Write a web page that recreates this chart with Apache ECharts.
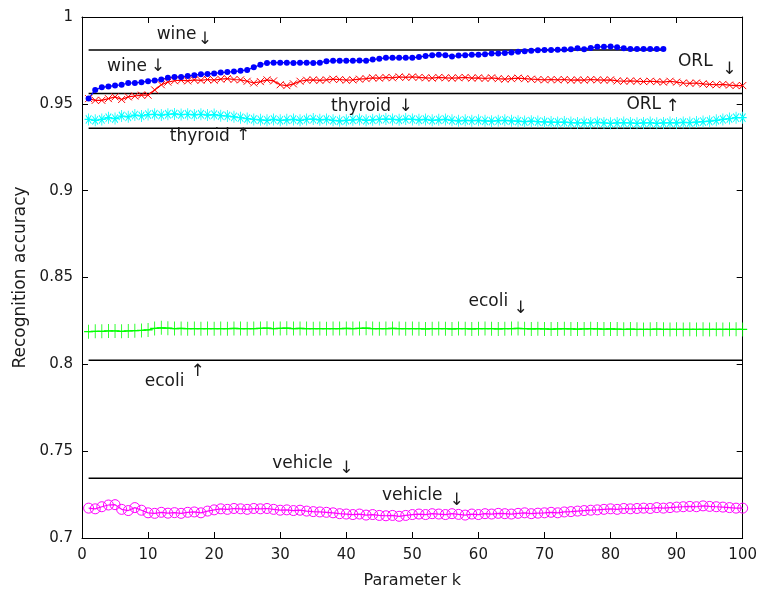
<!DOCTYPE html>
<html>
<head>
<meta charset="utf-8">
<script src="https://cdn.jsdelivr.net/npm/echarts@6/dist/echarts.min.js"></script>
<style>
html, body { margin: 0; padding: 0; background: #fff; }
#main { width: 760px; height: 594px; }
</style>
</head>
<body>
<div id="main"></div>
<script>
// recognition accuracy vs parameter k, one value per k starting at k=1
var wine = [
  0.953, 0.958, 0.9595, 0.960, 0.9605, 0.961, 0.962, 0.962, 0.9625, 0.963,
  0.9635, 0.964, 0.965, 0.9655, 0.9655, 0.966, 0.9665, 0.967, 0.9672, 0.9675,
  0.968, 0.9683, 0.9686, 0.969, 0.9695, 0.971, 0.9725, 0.9735, 0.9737, 0.9737,
  0.9737, 0.9735, 0.9737, 0.9737, 0.9735, 0.9737, 0.9745, 0.9748, 0.9748, 0.9748,
  0.9748, 0.975, 0.9748, 0.9755, 0.976, 0.9765, 0.9765, 0.9765, 0.9765, 0.9765,
  0.977, 0.9775, 0.978, 0.9783, 0.978, 0.9772, 0.9778, 0.978, 0.9783, 0.9783,
  0.9786, 0.979, 0.979, 0.9793, 0.9796, 0.980, 0.9803, 0.9806, 0.9808, 0.981,
  0.981, 0.9811, 0.9813, 0.9815, 0.982, 0.9815, 0.9822, 0.9828, 0.9828, 0.983,
  0.9826, 0.982, 0.9816, 0.9816, 0.9816, 0.9816, 0.9816, 0.9816
];
var orl = [
  0.953, 0.952, 0.952, 0.953, 0.954, 0.9525, 0.954, 0.9545, 0.955, 0.955,
  0.958, 0.961, 0.9625, 0.9633, 0.9636, 0.9632, 0.9638, 0.9635, 0.964, 0.9636,
  0.9642, 0.9645, 0.964, 0.9638, 0.963, 0.962, 0.9628, 0.9638, 0.9632, 0.961,
  0.9605, 0.9615, 0.963, 0.9636, 0.9638, 0.9635, 0.9638, 0.9642, 0.964, 0.9636,
  0.9638, 0.9642, 0.9645, 0.965, 0.9648, 0.9652, 0.965, 0.9655, 0.9652, 0.9655,
  0.9652, 0.965, 0.9648, 0.9652, 0.965, 0.9648, 0.965, 0.9652, 0.9648, 0.965,
  0.9646, 0.965, 0.9645, 0.9642, 0.9645, 0.9648, 0.9645, 0.9642, 0.964, 0.9638,
  0.964, 0.9638, 0.964, 0.9636, 0.9638, 0.9636, 0.964, 0.9638, 0.9636, 0.9638,
  0.9632, 0.963, 0.9632, 0.963, 0.9628, 0.963, 0.9628, 0.9625, 0.963, 0.9625,
  0.962, 0.9618, 0.962, 0.9615, 0.9612, 0.961, 0.9612, 0.9608, 0.9605, 0.9605
];
var thyroid = [
  0.941, 0.9405, 0.941, 0.942, 0.9415, 0.943, 0.9425, 0.9435, 0.943, 0.9438,
  0.944, 0.9435, 0.944, 0.9442, 0.9438, 0.944, 0.9436, 0.944, 0.9435, 0.9438,
  0.9432, 0.943, 0.9425, 0.942, 0.9415, 0.941, 0.9408, 0.9405, 0.941, 0.9405,
  0.9408, 0.941, 0.9405, 0.941, 0.9412, 0.9408, 0.941, 0.9405, 0.9402, 0.9405,
  0.9408, 0.941, 0.9405, 0.9408, 0.941, 0.9412, 0.941, 0.9408, 0.9412, 0.941,
  0.9408, 0.941, 0.9405, 0.9408, 0.941, 0.9405, 0.9402, 0.9405, 0.9403, 0.9405,
  0.9402, 0.940, 0.9403, 0.9405, 0.9402, 0.940, 0.9398, 0.940, 0.9398, 0.9396,
  0.9395, 0.9393, 0.9395, 0.9392, 0.939, 0.9392, 0.939, 0.9393, 0.939, 0.9388,
  0.939, 0.9392, 0.939, 0.9388, 0.939, 0.9392, 0.9388, 0.939, 0.9392, 0.939,
  0.9393, 0.9392, 0.9395, 0.9398, 0.940, 0.9405, 0.941, 0.9415, 0.942, 0.942
];
var ecoli = [
  0.8188, 0.819, 0.819, 0.8192, 0.8192, 0.819, 0.8192, 0.8194, 0.8195, 0.8198,
  0.8207, 0.821, 0.8208, 0.8206, 0.8207, 0.8205, 0.8206, 0.8205, 0.8206, 0.8205,
  0.8206, 0.8205, 0.8207, 0.8206, 0.8205, 0.8206, 0.8207, 0.8208, 0.8206, 0.8207,
  0.8208, 0.8206, 0.8207, 0.8206, 0.8205, 0.8206, 0.8205, 0.8206, 0.8206, 0.8207,
  0.8206, 0.8207, 0.8208, 0.8206, 0.8205, 0.8206, 0.8207, 0.8206, 0.8205, 0.8206,
  0.8205, 0.8204, 0.8205, 0.8206, 0.8205, 0.8204, 0.8206, 0.8205, 0.8204, 0.8205,
  0.8206, 0.8205, 0.8204, 0.8205, 0.8206, 0.8207, 0.8205, 0.8204, 0.8205, 0.8204,
  0.8203, 0.8204, 0.8205, 0.8204, 0.8203, 0.8204, 0.8205, 0.8204, 0.8203, 0.8204,
  0.8203, 0.8202, 0.8203, 0.8202, 0.8201, 0.8202, 0.8203, 0.8202, 0.8201, 0.8202,
  0.8201, 0.8202, 0.8201, 0.8202, 0.8201, 0.8202, 0.8201, 0.8202, 0.8202, 0.8201
];
var vehicle = [
  0.7172, 0.7168, 0.718, 0.719, 0.7192, 0.7165, 0.7158, 0.7175, 0.716, 0.7145,
  0.7142, 0.7148, 0.7143, 0.7146, 0.7142, 0.7148, 0.715, 0.7145, 0.7155, 0.7162,
  0.7168, 0.7165, 0.717, 0.7168, 0.7165, 0.717, 0.7168, 0.717, 0.7165, 0.716,
  0.7162, 0.7158, 0.716, 0.7155, 0.7152, 0.715, 0.7148, 0.7145, 0.714, 0.7138,
  0.7135, 0.7138, 0.7132, 0.7135, 0.713, 0.7128, 0.713, 0.7125, 0.713, 0.7135,
  0.7138, 0.7135, 0.714, 0.7138, 0.7135, 0.714, 0.7136, 0.7132, 0.7138, 0.7135,
  0.714, 0.7138, 0.7142, 0.714, 0.7138, 0.7142, 0.7145, 0.714, 0.7143, 0.7145,
  0.7148, 0.7145, 0.715, 0.7152, 0.7155, 0.7158, 0.716, 0.7162, 0.7165, 0.7168,
  0.7165, 0.717, 0.7168, 0.717, 0.7172, 0.717, 0.7175, 0.7172, 0.7175, 0.7178,
  0.718, 0.7182, 0.718, 0.7185, 0.7182, 0.718, 0.7178, 0.7175, 0.7172, 0.7172
];

// reference accuracies (black lines): [value, last k]
var refLines = [
  [0.981, 88],
  [0.956, 100],
  [0.936, 100],
  [0.8023, 100],
  [0.7344, 100]
];

// text notes: [text, k, accuracy]
var notes = [
  ['wine', 11.3, 0.9897], ['wine', 3.8, 0.9714],
  ['thyroid', 37.7, 0.9484], ['thyroid', 13.3, 0.9312],
  ['ORL', 90.2, 0.9742], ['ORL', 82.4, 0.9496],
  ['ecoli', 58.5, 0.836], ['ecoli', 9.5, 0.790],
  ['vehicle', 28.8, 0.743], ['vehicle', 45.4, 0.7247]
];
var arrows = [
  ['↓', 18.6, 0.9869], ['↓', 11.5, 0.9714],
  ['↓', 49.0, 0.9484], ['↑', 24.4, 0.9318],
  ['↓', 98.0, 0.9697], ['↑', 89.4, 0.9484],
  ['↓', 66.4, 0.832], ['↑', 17.5, 0.7958],
  ['↓', 40.0, 0.7402], ['↓', 56.7, 0.7218]
];

var FONT = 'DejaVu Sans';
var TXT = '#1a1a1a';

function pairs(arr) {
  var out = [];
  for (var i = 0; i < arr.length; i++) out.push([i + 1, arr[i]]);
  return out;
}

var CROSS = 'path://M0,0L10,10M10,0L0,10';
var PLUS = 'path://M5,0L5,10M0,5L10,5';
var STAR = 'path://M5,0L5,10M0,5L10,5M1.5,1.5L8.5,8.5M8.5,1.5L1.5,8.5';

function curve(name, arr, color, symbol, size, strokeOnly) {
  return {
    name: name,
    type: 'line',
    data: pairs(arr),
    symbol: symbol,
    symbolSize: size,
    showAllSymbol: true,
    animation: false,
    lineStyle: { color: color, width: 1.2 },
    itemStyle: strokeOnly
      ? { color: 'rgba(0,0,0,0)', borderColor: color, borderWidth: 1 }
      : { color: color, borderColor: color, borderWidth: 0 },
    z: 3
  };
}

var series = [];
for (var i = 0; i < refLines.length; i++) {
  series.push({
    type: 'line',
    data: [[1, refLines[i][0]], [refLines[i][1], refLines[i][0]]],
    symbol: 'none',
    animation: false,
    lineStyle: { color: '#000', width: 1.5 },
    z: 2
  });
}
series.push(curve('vehicle', vehicle, '#ff00ff', 'circle', 10, true));
series.push(curve('ecoli', ecoli, '#00ff00', PLUS, [9, 14], true));
series.push(curve('thyroid', thyroid, '#00ffff', STAR, [8, 12], true));
series.push(curve('ORL', orl, '#ff0000', CROSS, 7, true));
series.push(curve('wine', wine, '#0000ff', 'circle', 6, false));

var tick = { show: true, inside: true, length: 6, lineStyle: { color: '#000', width: 1 } };
var line = { show: true, onZero: false, lineStyle: { color: '#000', width: 1 } };
var lbl = { fontFamily: FONT, fontSize: 15, color: TXT, margin: 10 };

var myChart = echarts.init(document.getElementById('main'));
var option = {
  backgroundColor: '#fff',
  animation: false,
  grid: { left: 82, right: 15, top: 17, bottom: 54, containLabel: false },
  xAxis: [{
    type: 'value', min: 0, max: 100, interval: 10, position: 'bottom',
    name: 'Parameter k', nameLocation: 'middle', nameGap: 35,
    nameTextStyle: { fontFamily: FONT, fontSize: 16, color: TXT },
    axisLine: line, axisTick: tick, axisLabel: lbl, splitLine: { show: false }
  }, {
    type: 'value', min: 0, max: 100, interval: 10, position: 'top',
    axisLine: line, axisTick: tick, axisLabel: { show: false }, splitLine: { show: false }
  }],
  yAxis: [{
    type: 'value', min: 0.7, max: 1, interval: 0.05, position: 'left',
    name: 'Recognition accuracy', nameLocation: 'middle', nameGap: 52,
    nameTextStyle: { fontFamily: FONT, fontSize: 17, color: TXT },
    axisLine: line, axisTick: tick,
    axisLabel: {
      fontFamily: FONT, fontSize: 15, color: TXT, margin: 9,
      formatter: function (v) { return String(+v.toFixed(2)); }
    },
    splitLine: { show: false }
  }, {
    type: 'value', min: 0.7, max: 1, interval: 0.05, position: 'right',
    axisLine: line, axisTick: tick, axisLabel: { show: false }, splitLine: { show: false }
  }],
  series: series
};
myChart.setOption(option);

// put the notes on the chart at their data positions
var elems = [];
for (var n = 0; n < notes.length; n++) {
  var p = myChart.convertToPixel({ xAxisIndex: 0, yAxisIndex: 0 }, [notes[n][1], notes[n][2]]);
  elems.push({
    type: 'text', x: p[0], y: p[1], z: 10,
    style: { text: notes[n][0], fill: TXT, font: '17px "' + FONT + '"', textAlign: 'left', textVerticalAlign: 'middle' }
  });
}
for (var a = 0; a < arrows.length; a++) {
  var q = myChart.convertToPixel({ xAxisIndex: 0, yAxisIndex: 0 }, [arrows[a][1], arrows[a][2]]);
  elems.push({
    type: 'text', x: q[0], y: q[1], z: 10,
    style: { text: arrows[a][0], fill: TXT, font: '17px "' + FONT + '"', textAlign: 'center', textVerticalAlign: 'middle' }
  });
}
myChart.setOption({ graphic: elems });
</script>
</body>
</html>
